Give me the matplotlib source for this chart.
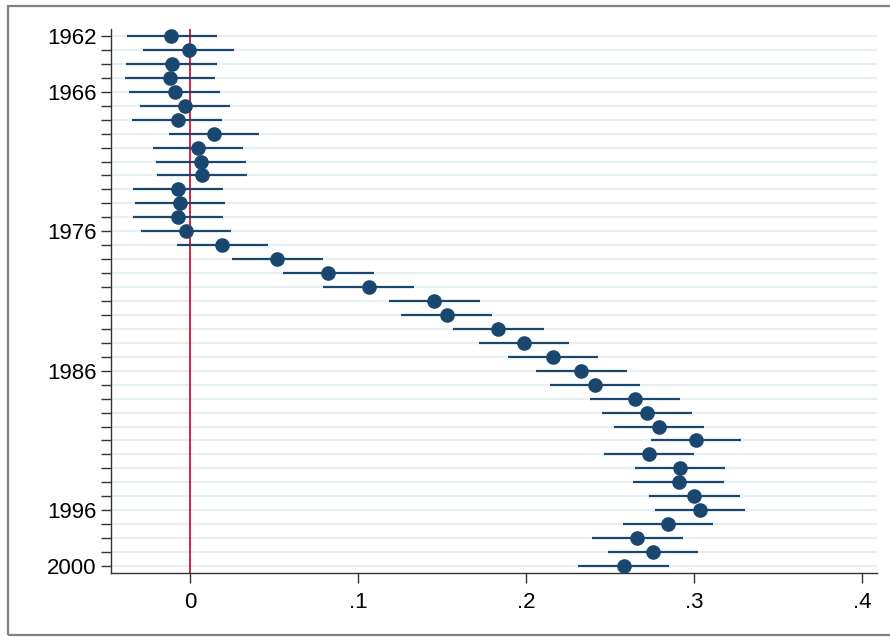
import matplotlib
matplotlib.use("Agg")
import matplotlib.pyplot as plt
from matplotlib.patches import Rectangle

plt.rcParams['font.family'] = ['Liberation Sans', 'DejaVu Sans']

years = list(range(1962, 2001))
coef = [-0.0113, -0.0008, -0.0110, -0.0119, -0.0091, -0.0030, -0.0073,
        0.0141, 0.0050, 0.0064, 0.0071, -0.0070, -0.0060, -0.0070, -0.0024,
        0.0192, 0.0520, 0.0823, 0.1062, 0.1454, 0.1528, 0.1835, 0.1986,
        0.2161, 0.2327, 0.2411, 0.2647, 0.2718, 0.2792, 0.3012, 0.2728,
        0.2915, 0.2908, 0.2999, 0.3033, 0.2843, 0.2661, 0.2752, 0.2579]
ci_low = [-0.0375, -0.0278, -0.0380, -0.0389, -0.0361, -0.0298, -0.0343,
          -0.0127, -0.0220, -0.0204, -0.0198, -0.0341, -0.0329, -0.0341, -0.0290,
          -0.0076, 0.0252, 0.0556, 0.0792, 0.1185, 0.1258, 0.1567, 0.1718,
          0.1893, 0.2058, 0.2143, 0.2377, 0.2450, 0.2522, 0.2742, 0.2460,
          0.2645, 0.2638, 0.2732, 0.2764, 0.2573, 0.2393, 0.2486, 0.2310]
ci_high = [0.0160, 0.0264, 0.0159, 0.0151, 0.0179, 0.0238, 0.0192,
           0.0409, 0.0317, 0.0335, 0.0341, 0.0194, 0.0210, 0.0194, 0.0246,
           0.0464, 0.0792, 0.1093, 0.1331, 0.1726, 0.1798, 0.2105, 0.2254,
           0.2430, 0.2597, 0.2680, 0.2913, 0.2986, 0.3060, 0.3280, 0.2998,
           0.3185, 0.3176, 0.3270, 0.3302, 0.3109, 0.2930, 0.3024, 0.2849]

year_labels = [1962, 1966, 1976, 1986, 1996, 2000]
x_ticks = [0, 0.1, 0.2, 0.3, 0.4]
x_ticklabels = ["0", ".1", ".2", ".3", ".4"]

navy = "#1a476f"
fig = plt.figure(figsize=(8.9, 6.37), dpi=100)
fig.patch.set_facecolor("white")

# outer graph-region frame
fig.add_artist(Rectangle((8 / 890, 2 / 637), 1.1, 629 / 637,
                         transform=fig.transFigure, fill=False,
                         edgecolor="#808080", linewidth=1.6))

ax = fig.add_axes([111 / 890, 1 - 573 / 637, (877 - 111) / 890, (573 - 29) / 637])
ax.set_xlim(-0.047, 0.4087)
ax.set_ylim(2000.5, 1961.5)

for y in years:
    ax.axhline(y, color="#e9f0f3", linewidth=1.6, zorder=0)

ax.axvline(0, color="#d0103a", linewidth=1.3, zorder=1)

ax.hlines(years, ci_low, ci_high, color=navy, linewidth=1.6, zorder=2)
ax.plot(coef, years, "o", color=navy, markersize=9.5, zorder=3)

ax.set_yticks(years, minor=True)
ax.set_yticks(year_labels)
ax.set_yticklabels([str(y) for y in year_labels])
ax.set_xticks(x_ticks)
ax.set_xticklabels(x_ticklabels)

ax.tick_params(axis="y", which="both", length=7.5, width=1, color="#333333",
               labelsize=16, pad=3)
ax.tick_params(axis="x", length=7.5, width=1, color="#333333",
               labelsize=16, pad=6)

for side in ("top", "right"):
    ax.spines[side].set_visible(False)
for side in ("left", "bottom"):
    ax.spines[side].set_color("#333333")
    ax.spines[side].set_linewidth(1.0)

fig.savefig("out.png", dpi=100, facecolor="white")
